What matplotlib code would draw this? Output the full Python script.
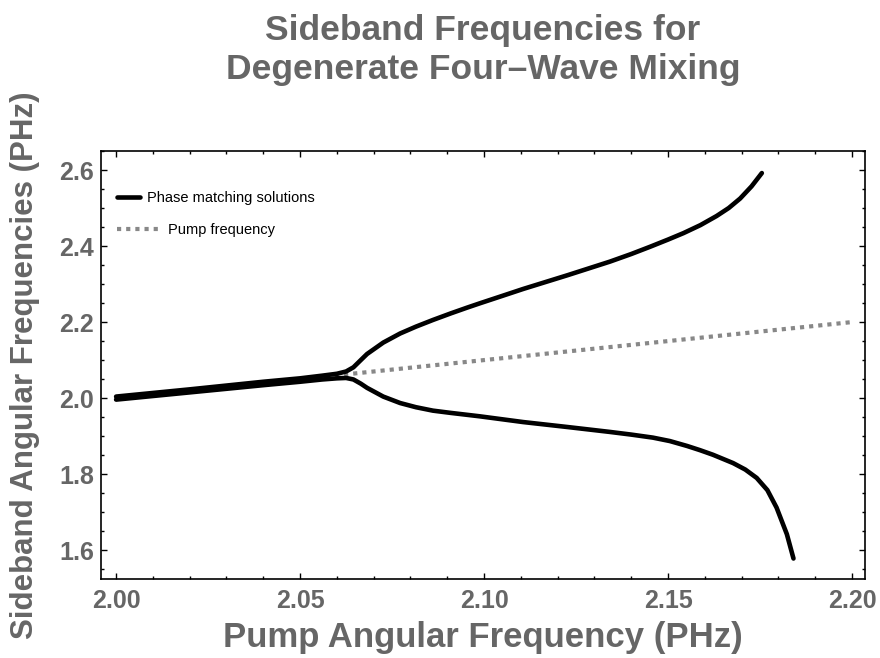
import matplotlib
matplotlib.use("Agg")
import matplotlib.pyplot as plt
from matplotlib.ticker import MultipleLocator, FormatStrFormatter

plt.rcParams['font.family'] = ['Liberation Sans', 'DejaVu Sans']

# Phase matching solutions
upper_x = [2.000, 2.020, 2.040, 2.050, 2.056, 2.0600, 2.0625, 2.0645, 2.0665,
           2.0682, 2.0726, 2.0772, 2.0815, 2.0861, 2.0910, 2.0954, 2.0989,
           2.1050, 2.1106, 2.1226, 2.1342, 2.1400, 2.1451, 2.1500, 2.1542,
           2.1588, 2.1632, 2.1665, 2.1696, 2.1727, 2.1755]
upper_y = [2.004, 2.023, 2.043, 2.052, 2.059, 2.064, 2.070, 2.081, 2.100,
           2.116, 2.146, 2.170, 2.188, 2.2055, 2.223, 2.238, 2.2495,
           2.269, 2.287, 2.323, 2.359, 2.379, 2.398, 2.417, 2.434,
           2.455, 2.479, 2.500, 2.525, 2.557, 2.592]

lower_x = [2.000, 2.020, 2.040, 2.050, 2.056, 2.0600, 2.0625, 2.0645, 2.0665,
           2.0682, 2.0726, 2.0772, 2.0815, 2.0861, 2.0910, 2.0954, 2.0989,
           2.1106, 2.1226, 2.1342, 2.1400, 2.1459, 2.1505, 2.1552, 2.1587,
           2.1622, 2.1677, 2.1710, 2.1741, 2.1770, 2.1795, 2.1823, 2.1841]
lower_y = [1.996, 2.015, 2.034, 2.043, 2.049, 2.052, 2.053, 2.049, 2.038,
           2.027, 2.004, 1.987, 1.976, 1.967, 1.961, 1.956, 1.952,
           1.937, 1.924, 1.911, 1.904, 1.896, 1.887, 1.874, 1.863,
           1.851, 1.829, 1.812, 1.790, 1.758, 1.712, 1.642, 1.578]

# Pump frequency line
pump_x = [2.00, 2.20]
pump_y = [2.00, 2.20]

gray = '#666666'

fig = plt.figure(figsize=(8.8, 6.58), dpi=100)
ax = fig.add_axes([0.1148, 0.12, 0.868, 0.6505])

pump_line, = ax.plot(pump_x, pump_y, color='#888888', lw=3.0, ls=(0, (1, 1.2)),
                     dash_capstyle='butt', zorder=2)
sol_line, = ax.plot(upper_x, upper_y, color='black', lw=3.3,
                    solid_capstyle='round', solid_joinstyle='round', zorder=3)
ax.plot(lower_x, lower_y, color='black', lw=3.3, solid_capstyle='round',
        solid_joinstyle='round', zorder=3)

ax.set_xlim(1.9959, 2.2035)
ax.set_ylim(1.524, 2.65)

ax.xaxis.set_major_locator(MultipleLocator(0.05))
ax.xaxis.set_minor_locator(MultipleLocator(0.01))
ax.yaxis.set_major_locator(MultipleLocator(0.2))
ax.yaxis.set_minor_locator(MultipleLocator(0.05))
ax.xaxis.set_major_formatter(FormatStrFormatter('%.2f'))
ax.yaxis.set_major_formatter(FormatStrFormatter('%.1f'))

ax.tick_params(which='both', direction='in', top=True, right=True,
               color='black', width=1.0)
ax.tick_params(which='major', length=4, labelsize=18, labelcolor=gray)
ax.tick_params(axis='x', which='major', pad=7)
ax.tick_params(axis='y', which='major', pad=5)
ax.tick_params(which='minor', length=2.5)
for lab in ax.get_xticklabels() + ax.get_yticklabels():
    lab.set_fontweight('bold')
for sp in ax.spines.values():
    sp.set_linewidth(1.2)

ax.set_xlabel('Pump Angular Frequency (PHz)', fontsize=25, fontweight='bold',
              color=gray, labelpad=6)
ax.set_ylabel('Sideband Angular Frequencies (PHz)', fontsize=22.5,
              fontweight='bold', color=gray, labelpad=14)

fig.suptitle('Sideband Frequencies for\nDegenerate Four\u2013Wave Mixing',
             fontsize=25.5, fontweight='bold', color=gray, x=0.549, y=0.978,
             linespacing=1.22)

leg1 = ax.legend([sol_line], ['Phase matching solutions'], loc='center left',
                 bbox_to_anchor=(0.021, 0.890), frameon=False, fontsize=10.5,
                 handlelength=1.6, handletextpad=0.42, borderpad=0,
                 borderaxespad=0)
ax.add_artist(leg1)
ax.legend([pump_line], ['Pump frequency'], loc='center left',
          bbox_to_anchor=(0.021, 0.815), frameon=False, fontsize=10.5,
          handlelength=2.95, handletextpad=0.52, borderpad=0, borderaxespad=0)

fig.savefig('out.png', dpi=100)
